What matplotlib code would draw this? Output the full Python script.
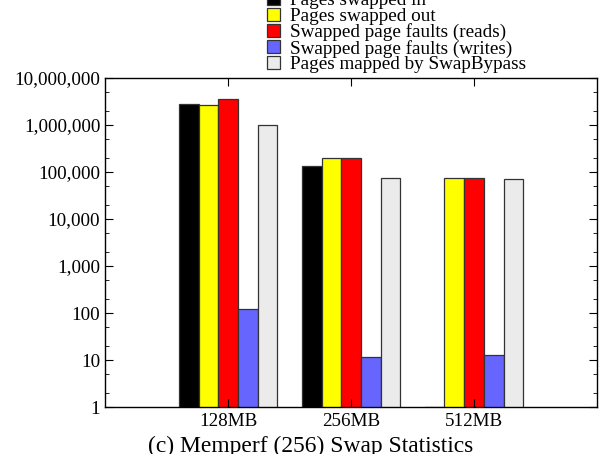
import matplotlib
matplotlib.use("Agg")
import matplotlib.pyplot as plt
import numpy as np
from matplotlib.ticker import FuncFormatter, LogLocator

# Daten
groessen = ["128MB", "256MB", "512MB"]
serien = ["Pages swapped in", "Pages swapped out", "Swapped page faults (reads)",
          "Swapped page faults (writes)", "Pages mapped by SwapBypass"]
swapped_in = [2800000, 134000, 1]
swapped_out = [2600000, 195000, 74000]
faults_reads = [3500000, 195000, 74000]
faults_writes = [121, 11.7, 12.6]
swapbypass = [1020000, 76000, 72000]
farben = ["#000000", "#ffff00", "#ff0000", "#6666ff", "#ebebeb"]

plt.rcParams["font.family"] = ["Liberation Serif", "DejaVu Serif"]
plt.rcParams["font.size"] = 13.8

fig = plt.figure(figsize=(6.05, 4.54), dpi=100)
ax = fig.add_axes([0.1736, 0.1035, 0.8132, 0.7247])

x = np.arange(len(groessen))
breite = 0.16
werte = [swapped_in, swapped_out, faults_reads, faults_writes, swapbypass]
for i, (name, vals, farbe) in enumerate(zip(serien, werte, farben)):
    ax.bar(x + (i - 2) * breite, vals, breite, bottom=0, color=farbe,
           edgecolor="#333333", linewidth=0.9, label=name)

ax.set_yscale("log")
ax.set_ylim(1, 1e7)
ax.set_xlim(-1, 3)
ax.yaxis.set_major_locator(LogLocator(base=10, numticks=10))
ax.yaxis.set_minor_locator(LogLocator(base=10, subs=[2, 5], numticks=10))
ax.yaxis.set_major_formatter(FuncFormatter(lambda v, p: f"{int(round(v)):,}"))
ax.yaxis.set_minor_formatter(FuncFormatter(lambda v, p: ""))
ax.set_xticks(x)
ax.set_xticklabels(groessen)
ax.tick_params(axis="both", which="both", direction="in", top=True, right=True)
ax.tick_params(axis="y", which="major", length=6)
ax.tick_params(axis="y", which="minor", length=3)
ax.tick_params(axis="x", length=6, pad=4)
for s in ax.spines.values():
    s.set_linewidth(1.0)

# Titel unten (wie Bildunterschrift)
fig.text(0.513, 0.0044, "(c) Memperf (256) Swap Statistics", ha="center",
         va="baseline", fontsize=16.9)

ax.legend(loc="upper left", bbox_to_anchor=(0.441, 1.018), bbox_transform=fig.transFigure,
          frameon=False, handlelength=0.67, handleheight=0.67, handletextpad=0.55,
          labelspacing=-0.08, borderpad=0, borderaxespad=0)

fig.savefig("out.png", dpi=100)
